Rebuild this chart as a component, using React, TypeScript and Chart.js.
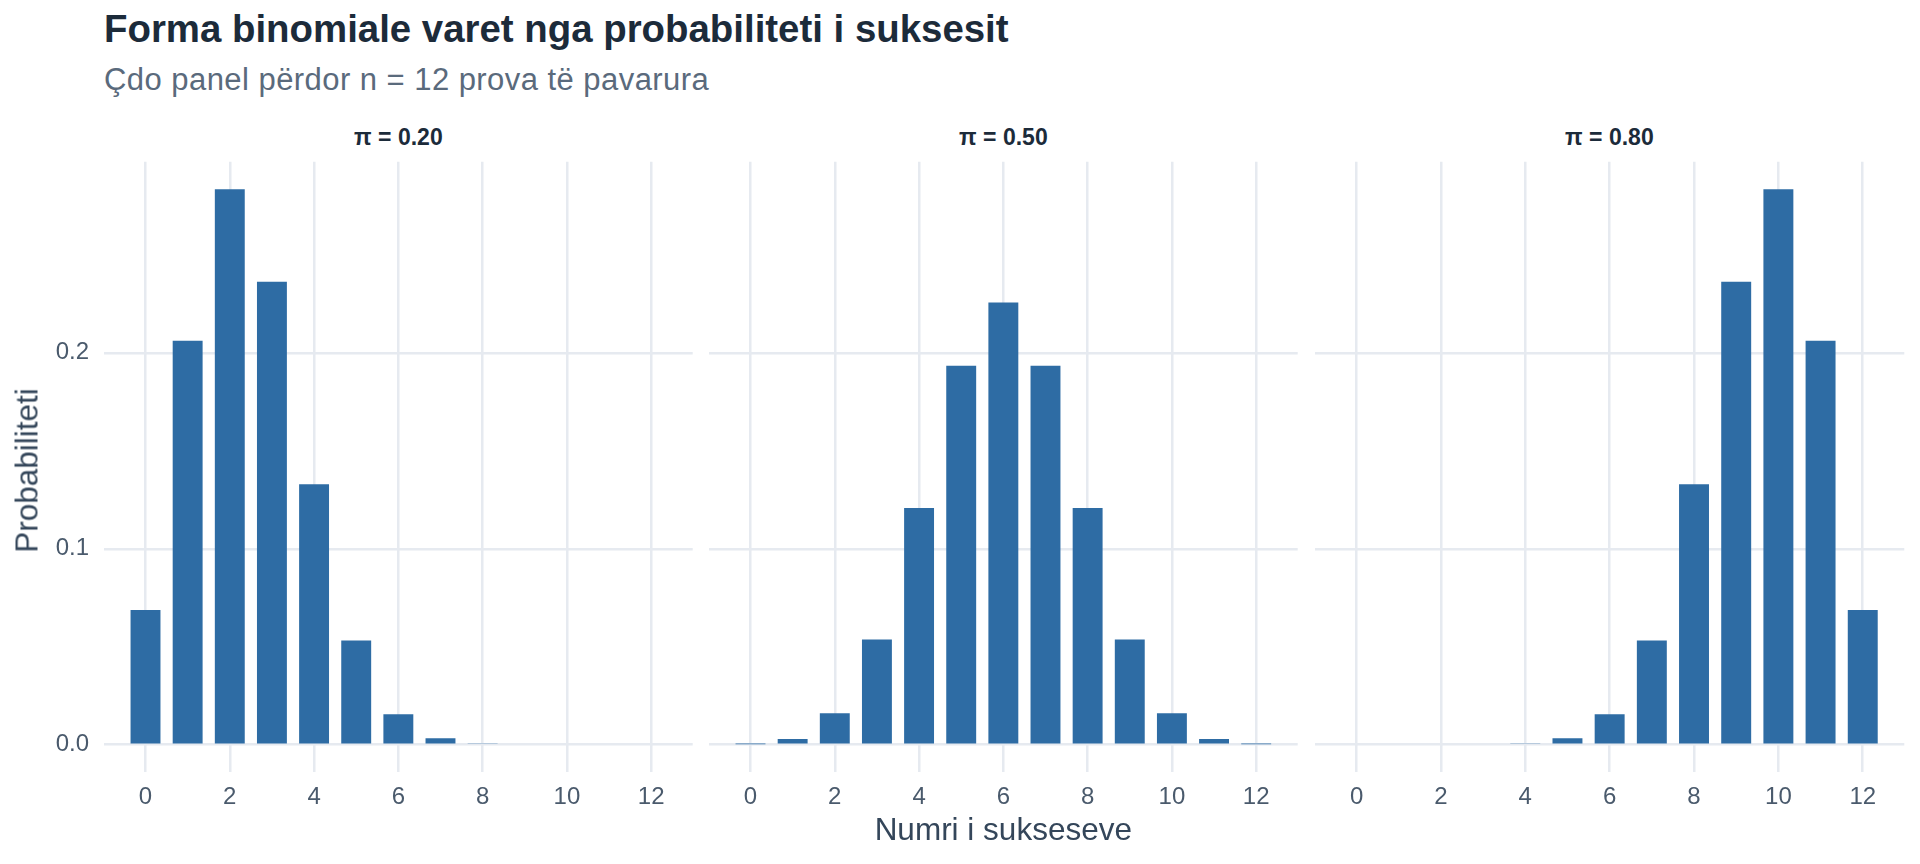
import { useEffect, useRef } from "react";
import { Chart, registerables } from "chart.js";

Chart.register(...registerables);

// number of successes, n = 12 trials
const successes = [0, 1, 2, 3, 4, 5, 6, 7, 8, 9, 10, 11, 12];

const probLow = [
  0.0687, 0.2062, 0.2835, 0.2362, 0.1329, 0.0532, 0.0155, 0.0033, 0.0005,
  0.0, 0.0, 0.0, 0.0,
];
const probMid = [
  0.00024, 0.0029, 0.0161, 0.0537, 0.1208, 0.1934, 0.2256, 0.1934, 0.1208,
  0.0537, 0.0161, 0.0029, 0.00024,
];
const probHigh = [
  0.0, 0.0, 0.0, 0.0, 0.0005, 0.0033, 0.0155, 0.0532, 0.1329, 0.2362, 0.2835,
  0.2062, 0.0687,
];

const panelTitles = ["π = 0.20", "π = 0.50", "π = 0.80"];
const xTicks = [0, 2, 4, 6, 8, 10, 12];
const yTicks = [0, 0.1, 0.2];

const FONT = "'Liberation Sans', Arial, sans-serif";
const BAR = "#2e6ca4";
const GRID = "#e6eaf0";
const TICK = "#4a5a6c";
const AXIS_TITLE = "#34465a";
const DARK = "#1c2b3a";

const X_MIN = -0.985;
const X_MAX = 12.985;
const Y_MIN = -0.01407;
const Y_MAX = 0.2975;

const CANVAS_TOP = 120;
const CANVAS_H = 744;

interface PanelProps {
  values: number[];
  left: number;
  width: number;
  yWidth: number;
  padRight: number;
  showYTicks: boolean;
}

const Panel = ({ values, left, width, yWidth, padRight, showYTicks }: PanelProps) => {
  const ref = useRef<HTMLCanvasElement | null>(null);

  useEffect(() => {
    const ctx = ref.current?.getContext("2d");
    if (!ctx) return;

    const chart = new Chart(ctx, {
      type: "bar",
      data: {
        datasets: [
          {
            data: successes.map((k, i) => ({ x: k, y: values[i] })),
            backgroundColor: BAR,
            borderWidth: 0,
            barPercentage: 0.71,
            categoryPercentage: 1,
          },
        ],
      },
      options: {
        responsive: false,
        animation: false,
        layout: { padding: { top: 41.7, right: padRight, left: 0, bottom: 0 } },
        plugins: {
          legend: { display: false },
          tooltip: { enabled: false },
        },
        scales: {
          x: {
            type: "linear",
            offset: false,
            min: X_MIN,
            max: X_MAX,
            afterBuildTicks: (axis) => {
              axis.ticks = xTicks.map((v) => ({ value: v }));
            },
            afterFit: (scale) => {
              scale.height = 91.7;
            },
            grid: { color: GRID, lineWidth: 2.5, drawTicks: false, offset: false },
            border: { display: false },
            ticks: {
              padding: 10.6,
              color: TICK,
              font: { family: FONT, size: 24 },
              maxRotation: 0,
              callback: (v) => String(v),
            },
          },
          y: {
            min: Y_MIN,
            max: Y_MAX,
            afterBuildTicks: (axis) => {
              axis.ticks = yTicks.map((v) => ({ value: v }));
            },
            afterFit: (scale) => {
              scale.width = yWidth;
            },
            grid: { color: GRID, lineWidth: 2.5, drawTicks: false },
            border: { display: false },
            ticks: {
              display: showYTicks,
              padding: 15,
              color: TICK,
              font: { family: FONT, size: 24 },
              callback: (v) => Number(v).toFixed(1),
            },
          },
        },
      },
    });

    return () => {
      chart.destroy();
    };
  }, [values, yWidth, padRight, showYTicks]);

  return (
    <canvas
      ref={ref}
      width={width}
      height={CANVAS_H}
      style={{ position: "absolute", left, top: CANVAS_TOP, width, height: CANVAS_H }}
    />
  );
};

const panels = [
  { values: probLow, left: 0, width: 700, yWidth: 104, padRight: 7.3, showYTicks: true, center: 398.4 },
  { values: probMid, left: 709, width: 600, yWidth: 0, padRight: 11.3, showYTicks: false, center: 1003.4 },
  { values: probHigh, left: 1314.7, width: 600, yWidth: 0, padRight: 10.7, showYTicks: false, center: 1609.4 },
];

const App = () => {
  return (
    <div
      style={{
        position: "fixed",
        left: 0,
        top: 0,
        width: 1920,
        height: 864,
        background: "#ffffff",
        fontFamily: FONT,
        overflow: "hidden",
      }}
    >
      <div
        style={{
          position: "absolute",
          left: 104,
          top: 9.8,
          fontSize: 38.4,
          lineHeight: 1,
          fontWeight: "bold",
          color: DARK,
          whiteSpace: "nowrap",
        }}
      >
        Forma binomiale varet nga probabiliteti i suksesit
      </div>
      <div
        style={{
          position: "absolute",
          left: 104,
          top: 63.8,
          fontSize: 31,
          lineHeight: 1,
          letterSpacing: 0.45,
          color: "#5a6a7c",
          whiteSpace: "nowrap",
        }}
      >
        Çdo panel përdor n = 12 prova të pavarura
      </div>

      {panels.map((p, i) => (
        <div
          key={"t" + i}
          style={{
            position: "absolute",
            left: p.center - 150,
            width: 300,
            top: 126.2,
            fontSize: 23,
            lineHeight: 1,
            fontWeight: "bold",
            color: DARK,
            textAlign: "center",
            whiteSpace: "nowrap",
          }}
        >
          {panelTitles[i]}
        </div>
      ))}

      {panels.map((p, i) => (
        <Panel
          key={i}
          values={p.values}
          left={p.left}
          width={p.width}
          yWidth={p.yWidth}
          padRight={p.padRight}
          showYTicks={p.showYTicks}
        />
      ))}

      <div
        style={{
          position: "absolute",
          left: 1003.3 - 200,
          width: 400,
          top: 814.3,
          fontSize: 31.5,
          lineHeight: 1,
          color: AXIS_TITLE,
          textAlign: "center",
          whiteSpace: "nowrap",
        }}
      >
        Numri i sukseseve
      </div>
      <div
        style={{
          position: "absolute",
          left: 27 - 150,
          width: 300,
          top: 470 - 15.5,
          height: 31,
          fontSize: 31.5,
          lineHeight: 1,
          color: AXIS_TITLE,
          textAlign: "center",
          whiteSpace: "nowrap",
          transform: "rotate(-90deg)",
        }}
      >
        Probabiliteti
      </div>
    </div>
  );
};

export default App;
